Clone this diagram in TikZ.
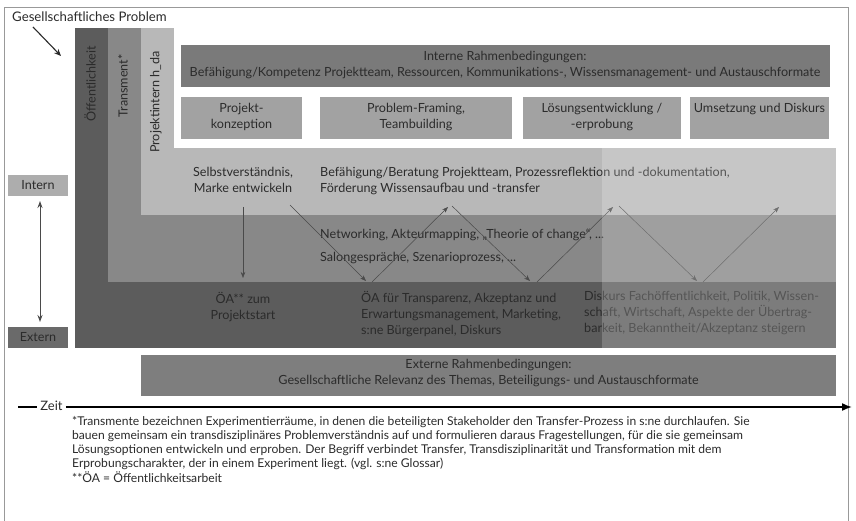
\documentclass[tikz,border=0pt]{standalone}
\usepackage{fontspec}
\setmainfont{Lato}
\usetikzlibrary{arrows.meta}
\definecolor{txt}{HTML}{2B2B2B}
\definecolor{cDark}{HTML}{5C5C5C}
\definecolor{cMed}{HTML}{888888}
\definecolor{cLight}{HTML}{B8B8B8}
\definecolor{cInt}{HTML}{7A7A7A}
\definecolor{cPhase}{HTML}{A2A2A2}
\definecolor{cExt}{HTML}{7E7E7E}
\definecolor{cIntern}{HTML}{ADADAD}
\definecolor{cExtern}{HTML}{6A6A6A}
\definecolor{cLine}{HTML}{4A4A4A}
\tikzset{
  lbl/.style={text=txt, font=\fontsize{12.6}{16}\selectfont, inner sep=0pt},
  rbox/.style={anchor=north west, inner sep=0pt, draw=none},
  flow/.style={draw=cLine, line width=0.5pt, -{Stealth[length=6pt,width=4.5pt]}},
}
\begin{document}
\begin{tikzpicture}[x=1pt,y=-1pt]
\useasboundingbox (0,0) rectangle (856,521);
\fill[white] (0,0) rectangle (856,521);
\draw[gray!80, line width=0.8pt] (4,7) rectangle (848,530);

% nested bands
\fill[cDark] (75,28) rectangle (836,348);
\fill[cMed] (108,28) rectangle (836,282);
\fill[cLight] (141,28) rectangle (836,215);
\fill[white] (174,28) rectangle (836,148);

% vertical labels
\node[lbl, rotate=90] (oeff) at (90,84) {Öffentlichkeit};
\node[lbl, rotate=90] (trans) at (123,86) {Transment*};
\node[lbl, rotate=90] (pint) at (156,102) {Projektintern h\_da};

% internal frame box
\node[rbox, fill=cInt, minimum width=649pt, minimum height=42pt] (intbox) at (181,45) {};
\node[lbl, align=center] (inttext) at (505,65) {Interne Rahmenbedingungen:\\Befähigung/Kompetenz Projektteam, Ressourcen, Kommunikations-, Wissensmanagement- und Austauschformate};

% phase boxes
\node[rbox, fill=cPhase, minimum width=121pt, minimum height=42pt] (ph1) at (181,97) {};
\node[rbox, fill=cPhase, minimum width=192pt, minimum height=42pt] (ph2) at (320,97) {};
\node[rbox, fill=cPhase, minimum width=158pt, minimum height=42pt] (ph3) at (523,97) {};
\node[rbox, fill=cPhase, minimum width=139pt, minimum height=42pt] (ph4) at (690,97) {};
\node[lbl, align=center, anchor=north] (ph1t) at (241.5,103) {Projekt-\\konzeption};
\node[lbl, align=center, anchor=north] (ph2t) at (416,103) {Problem-Framing,\\Teambuilding};
\node[lbl, align=center, anchor=north] (ph3t) at (602,103) {Lösungsentwicklung /\\-erprobung};
\node[lbl, align=center, anchor=north] (ph4t) at (759.5,103) {Umsetzung und Diskurs};

% band texts
\node[lbl, align=center, anchor=north] (selbst) at (243,167) {Selbstverständnis,\\Marke entwickeln};
\node[lbl, align=left, anchor=north west] (befaeh) at (320,167) {Befähigung/Beratung Projektteam, Prozessreflektion und -dokumentation,\\Förderung Wissensaufbau und -transfer};
\node[lbl, anchor=west] (netw) at (320,235) {Networking, Akteurmapping, „Theorie of change“, ...};
\node[lbl, anchor=west] (salon) at (320,258) {Salongespräche, Szenarioprozess, ...};
\node[lbl, align=center, anchor=north] (oastart) at (243,292) {ÖA** zum\\Projektstart};
\node[lbl, align=left, anchor=north west] (oatrans) at (361,291) {ÖA für Transparenz, Akzeptanz und\\Erwartungsmanagement, Marketing,\\s:ne Bürgerpanel, Diskurs};
\node[lbl, align=left, anchor=north west] (diskurs) at (584,291) {Diskurs Fachöffentlichkeit, Politik, Wissen-\\schaft, Wirtschaft, Aspekte der Übertrag-\\barkeit, Bekanntheit/Akzeptanz steigern};

% flow arrows
\coordinate (s1) at (243,207); \coordinate (e1) at (243,278);
\coordinate (a1) at (290,205); \coordinate (b1) at (366,281);
\coordinate (b2) at (372,282); \coordinate (a2) at (448,207);
\coordinate (a3) at (452,206); \coordinate (b3) at (530,281);
\coordinate (b4) at (537,282); \coordinate (a4) at (613,207);
\coordinate (a5) at (619,206); \coordinate (b5) at (697,281);
\coordinate (b6) at (703,282); \coordinate (a6) at (779,207);
\draw[flow] (s1) -- (e1);
\draw[flow] (a1) -- (b1);
\draw[flow] (b2) -- (a2);
\draw[flow] (a3) -- (b3);
\draw[flow] (b4) -- (a4);
\draw[flow] (a5) -- (b5);
\draw[flow] (b6) -- (a6);

% light overlay on the right
\fill[white, opacity=0.2] (602,148) rectangle (836,348);

% external frame box
\node[rbox, fill=cExt, minimum width=695pt, minimum height=41pt] (extbox) at (141,355) {};
\node[lbl, align=center] (exttext) at (488.5,373) {Externe Rahmenbedingungen:\\Gesellschaftliche Relevanz des Themas, Beteiligungs- und Austauschformate};

% top-left problem label
\node[lbl, anchor=west, font=\fontsize{13.2}{15}\selectfont] (problem) at (12,17) {Gesellschaftliches Problem};
\coordinate (pa) at (33,27); \coordinate (pb) at (61,56);
\draw[line width=1.1pt, draw=txt, -{Stealth[length=7pt,width=6pt]}] (pa) -- (pb);

% intern / extern
\node[fill=cIntern, minimum width=60pt, minimum height=21pt, inner sep=0pt, text=txt, font=\fontsize{12.6}{14}\selectfont] (intern) at (38,185.5) {Intern};
\node[fill=cExtern, minimum width=60pt, minimum height=21pt, inner sep=0pt, text=txt, font=\fontsize{12.6}{14}\selectfont] (extern) at (38,337.5) {Extern};
\coordinate (ia) at (40,201); \coordinate (ib) at (40,322);
\draw[draw=cLine, line width=1pt, {Stealth[length=7pt,width=5pt]}-{Stealth[length=7pt,width=5pt]}] (ia) -- (ib);

% time axis
\node[lbl, inner sep=3pt, font=\fontsize{13}{14}\selectfont] (zeit) at (51.5,406) {Zeit};
\coordinate (zs) at (18,407); \coordinate (ze) at (852,407);
\draw[line width=1.6pt] (zs) -- (zeit.west |- zs);
\draw[line width=1.6pt, -{Latex[length=10pt,width=8pt]}] (zeit.east |- zs) -- (ze);

% footnote
\node[lbl, align=left, anchor=north west, font=\fontsize{12.1}{14.2}\selectfont] (foot) at (72,416) {*Transmente bezeichnen Experimentierräume, in denen die beteiligten Stakeholder den Transfer-Prozess in s:ne durchlaufen. Sie\\bauen gemeinsam ein transdisziplinäres Problemverständnis auf und formulieren daraus Fragestellungen, für die sie gemeinsam\\Lösungsoptionen entwickeln und erproben. Der Begriff verbindet Transfer, Transdisziplinarität und Transformation mit dem\\Erprobungscharakter, der in einem Experiment liegt. (vgl. s:ne Glossar)\\**ÖA = Öffentlichkeitsarbeit};
\end{tikzpicture}
\end{document}
